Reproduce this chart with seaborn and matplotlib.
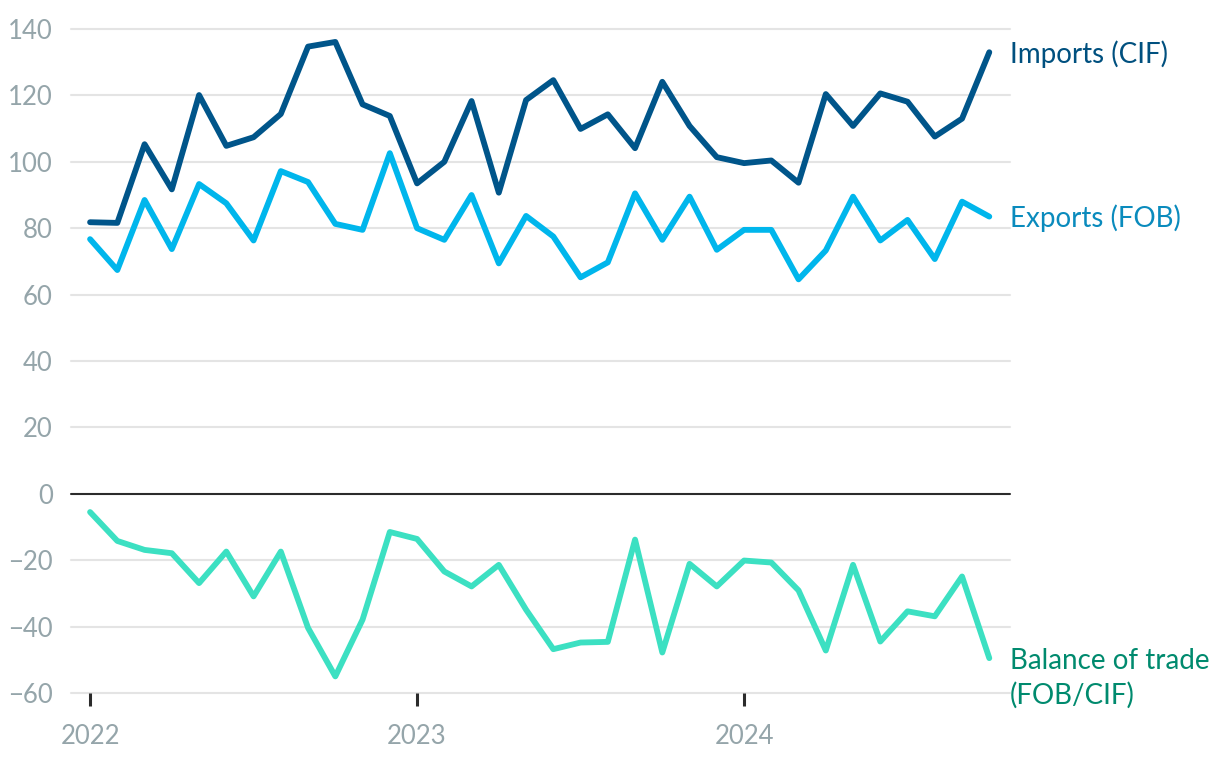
import numpy as np
import pandas as pd
import matplotlib
matplotlib.use("Agg")
import matplotlib.pyplot as plt
import seaborn as sns

months = pd.date_range("2022-01-01", periods=34, freq="MS")
imports_cif = [81.8, 81.6, 105.3, 91.7, 120.1, 104.8, 107.4, 114.4, 134.7, 136.1,
               117.3, 113.8, 93.5, 100.0, 118.3, 90.7, 118.6, 124.6, 109.9, 114.3,
               104.1, 124.1, 110.8, 101.4, 99.6, 100.4, 93.7, 120.4, 110.8, 120.6,
               118.1, 107.6, 113.0, 133.0]
exports_fob = [76.7, 67.4, 88.5, 73.7, 93.3, 87.5, 76.3, 97.2, 93.9, 81.3,
               79.5, 102.6, 80.0, 76.5, 90.0, 69.4, 83.7, 77.5, 65.2, 69.7,
               90.5, 76.5, 89.5, 73.5, 79.5, 79.5, 64.6, 73.3, 89.5, 76.3,
               82.5, 70.7, 88.0, 83.5]
balance = [-5.5, -14.2, -16.9, -17.9, -26.9, -17.4, -30.9, -17.4, -40.4, -55.0,
           -37.9, -11.5, -13.6, -23.4, -27.9, -21.4, -34.9, -46.8, -44.8, -44.6,
           -13.8, -47.8, -21.1, -27.9, -20.1, -20.7, -29.1, -47.2, -21.4, -44.5,
           -35.4, -36.9, -24.9, -49.5]
series_names = ["Imports (CIF)", "Exports (FOB)", "Balance of trade\n(FOB/CIF)"]
line_colors = ["#00558a", "#00b6ec", "#3ce0c2"]
label_colors = ["#00507f", "#0a8bbd", "#008a6e"]
yticks = [-60, -40, -20, 0, 20, 40, 60, 80, 100, 120, 140]
xtick_labels = ["2022", "2023", "2024"]

sns.set_style("white")
plt.rcParams["font.family"] = ["Lato", "DejaVu Sans"]

idx = np.arange(len(months))
df = pd.DataFrame({
    "idx": np.tile(idx, 3),
    "value": imports_cif + exports_fob + balance,
    "series": np.repeat(series_names, len(months)),
})

fig = plt.figure(figsize=(12.2, 7.6), dpi=100)
ax = fig.add_axes([71 / 1220, (760 - 693) / 760, (1010 - 71) / 1220, (693 - 29) / 760])

for yv in yticks:
    if yv == 0:
        ax.axhline(0, color="#2b2b2b", lw=1.5, zorder=1)
    else:
        ax.axhline(yv, color="#e4e4e4", lw=1.5, zorder=0)

sns.lineplot(data=df, x="idx", y="value", hue="series", palette=dict(zip(series_names, line_colors)),
             lw=4.2, legend=False, ax=ax, solid_capstyle="round", solid_joinstyle="round",
             zorder=3)
for ln in ax.get_lines():
    ln.set_clip_on(False)

ax.set_xlim(-0.7, 33.76)
ax.set_ylim(-60, 140)
ax.set_yticks(yticks)
ax.set_yticklabels([("\u2212" + str(abs(v))) if v < 0 else str(v) for v in yticks])
ax.set_xticks([0, 12, 24])
ax.set_xticklabels(xtick_labels)
ax.tick_params(axis="y", left=False, length=0, pad=13, labelsize=18.5, labelcolor="#95a5aa")
ax.tick_params(axis="x", bottom=True, length=9, width=2.2, color="#2b2b2b", pad=13, labelsize=18.5,
               labelcolor="#95a5aa", direction="out")
for s in ax.spines.values():
    s.set_visible(False)
ax.set_xlabel("")
ax.set_ylabel("")

label_y = [132.5, 83.0, -55.5]
for name, ly, col in zip(series_names, label_y, label_colors):
    ax.annotate(name, xy=(33, ly), xytext=(15, 0), textcoords="offset points",
                va="center", ha="left", fontsize=20, color=col, annotation_clip=False,
                linespacing=1.35)

fig.savefig("out.png", dpi=100)
